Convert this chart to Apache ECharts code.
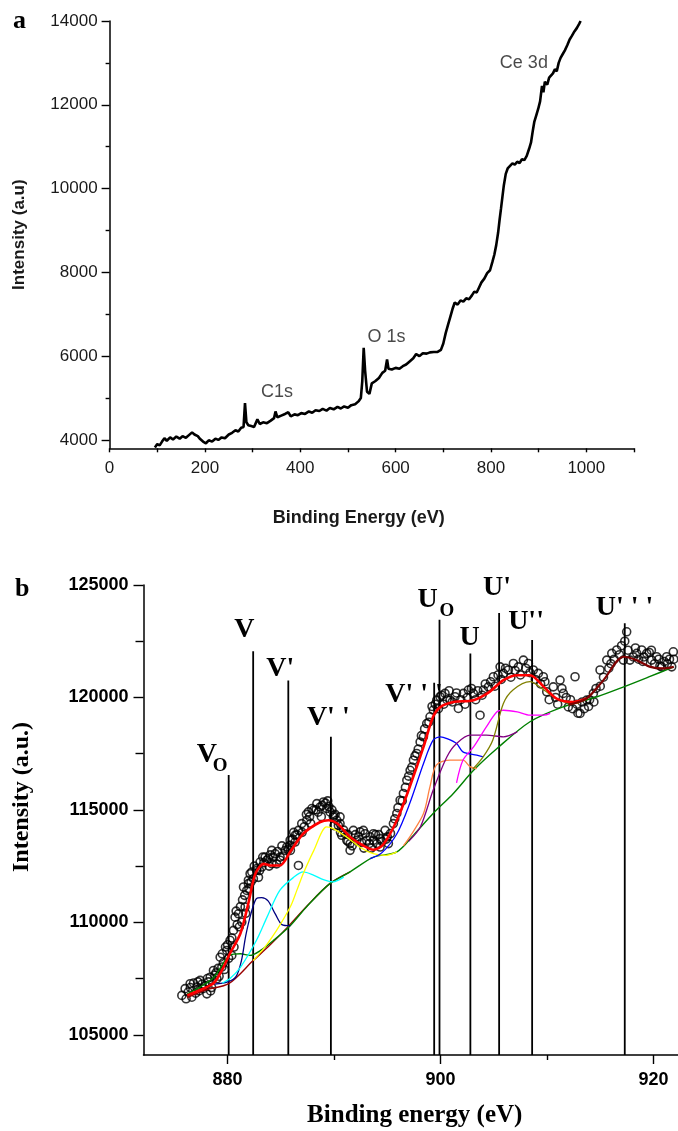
<!DOCTYPE html>
<html>
<head>
<meta charset="utf-8">
<script src="https://cdn.jsdelivr.net/npm/echarts@6/dist/echarts.min.js"></script>
<style>
  html, body { margin: 0; background: #fff; }
  #chart { width: 678px; height: 1131px; }
</style>
</head>
<body>
<div id="chart"></div>
<script>
// ---- panel a: XPS survey spectrum ----
const surveyEnergy = [95, 100, 105, 110, 115, 120, 127, 133, 140, 147, 153, 160, 167, 173, 178, 185, 190, 196, 202, 208,
  215, 222, 228, 235, 242, 250, 257, 264, 270, 276, 281, 284, 287, 291, 297, 303, 310, 315, 322, 330,
  338, 345, 348, 352, 360, 368, 375, 380, 388, 395, 402, 410, 418, 425, 432, 440, 447, 455, 462, 470,
  478, 485, 492, 500, 507, 515, 522, 527, 530, 533, 536, 540, 545, 550, 557, 565, 572, 578, 582, 585,
  592, 600, 608, 615, 622, 630, 637, 643, 650, 657, 665, 672, 680, 688, 695, 700, 705, 710, 715, 720,
  724, 730, 736, 742, 748, 754, 760, 765, 770, 775, 780, 786, 792, 798, 803, 807, 811, 815, 818, 821,
  824, 827, 831, 835, 840, 845, 850, 855, 860, 865, 870, 875, 880, 884, 888, 891, 895, 899, 903, 907,
  910, 913, 918, 922, 926, 930, 934, 938, 942, 946, 950, 955, 960, 965, 970, 975, 980, 985, 988]
const surveyIntensity = [3820, 3900, 3870, 3960, 4040, 3980, 4060, 4010, 4080, 4030, 4090, 4050, 4120, 4180, 4130, 4090, 4020, 3960, 3920, 3990,
  3960, 4030, 4000, 4060, 4040, 4130, 4170, 4230, 4200, 4290, 4310, 4880, 4420, 4350, 4330, 4310, 4490, 4380, 4420, 4400,
  4460, 4520, 4680, 4540, 4580, 4620, 4660, 4560, 4610, 4590, 4640, 4620, 4680, 4650, 4710, 4690, 4740, 4700, 4760, 4730,
  4790, 4750, 4800, 4770, 4830, 4850, 4920, 5000, 5400, 6200, 5650, 5150, 5100, 5350, 5400, 5480, 5600, 5650, 5920, 5700,
  5680, 5720, 5700, 5760, 5800, 5880, 5950, 6050, 6000, 6070, 6060, 6090, 6100, 6100, 6150, 6300, 6550, 6750, 6950, 7150,
  7280, 7230, 7330, 7300, 7380, 7360, 7450, 7540, 7520, 7640, 7760, 7850, 7980, 8050, 8250, 8420, 8650, 8950, 9250, 9520,
  9800, 10080, 10350, 10480, 10540, 10600, 10570, 10640, 10610, 10700, 10680, 10780, 10950, 11100, 11400, 11600, 11750, 11900, 12080, 12450,
  12300, 12550, 12480, 12650, 12620, 12750, 12850, 12800, 13000, 13120, 13200, 13300, 13420, 13560, 13650, 13750, 13830, 13930, 14000]
const surveyPeaks = [[869, 13000, 'Ce 3d'], [581, 6460, 'O 1s'], [351, 5150, 'C1s']]
const surveyTicksX = [0, 100, 200, 300, 400, 500, 600, 700, 800, 900, 1000, 1100]
const surveyLabelsX = [0, 200, 400, 600, 800, 1000]
const surveyMajorY = [4000, 6000, 8000, 10000, 12000, 14000]
const surveyMinorY = [5000, 7000, 9000, 11000, 13000]

// ---- panel b: Ce 3d fit ----
const ceData = [
  [875.70, 106750], [876.01, 107050], [876.48, 107270], [876.64, 106670], [877.11, 107120], [877.42, 107420], [877.89, 107190],
  [878.05, 106820], [878.36, 107560], [878.67, 107860], [878.99, 107490], [879.30, 108450], [879.46, 108010], [879.92, 108750],
  [880.23, 109200], [880.39, 108530], [880.55, 109640], [880.70, 110230], [881.02, 110380], [881.33, 110010], [881.64, 110680],
  [881.80, 111420], [881.95, 111720], [882.11, 112160], [882.42, 111940], [882.74, 112310], [883.21, 112460], [883.68, 112760],
  [884.15, 112610], [884.46, 113050], [884.93, 112760], [885.40, 113200], [885.87, 113430], [886.34, 113570], [886.65, 112530],
  [881.49, 111570], [881.95, 111870], [882.27, 112240], [882.74, 112390], [883.05, 112680], [883.52, 112900], [883.83, 112830],
  [884.15, 113200], [884.93, 112900], [885.56, 113350], [885.87, 113650], [886.34, 113870], [886.65, 114090], [886.96, 114390],
  [887.44, 114540], [887.59, 114910], [887.91, 115060], [888.38, 115280], [888.69, 115130], [889.00, 115350], [889.31, 115060],
  [889.62, 114910], [889.98, 114760], [890.25, 114540], [890.56, 114690], [890.72, 113870], [891.19, 113650], [891.50, 113200],
  [891.81, 114090], [892.44, 114020], [892.91, 113940], [893.07, 113650], [893.38, 113800], [893.69, 113650], [894.01, 113500],
  [894.32, 113350], [889.93, 114690], [890.56, 114390], [891.03, 113940], [891.50, 113500], [892.13, 113650], [892.75, 114090],
  [893.69, 113940], [894.32, 113720], [894.79, 114090], [895.10, 113500], [895.57, 114390], [895.89, 114840], [896.20, 115430],
  [896.51, 115730], [896.83, 116320], [897.14, 116760], [897.45, 117210], [897.76, 117510], [898.08, 118020], [898.39, 118250],
  [898.70, 118840], [899.01, 119140], [899.32, 119440], [899.64, 119880], [899.95, 120030], [900.42, 120180], [900.89, 119880],
  [901.36, 120030], [901.67, 119510], [902.14, 120180], [902.61, 120330], [903.08, 120180], [903.71, 119210], [904.02, 120330],
  [904.49, 120470], [904.96, 120920], [905.59, 121360], [905.90, 121070], [906.37, 121220], [906.84, 121510], [907.31, 121360],
  [907.78, 121660], [908.25, 121510], [908.71, 121220], [909.18, 121070], [909.65, 120920], [909.97, 120250], [910.59, 120470],
  [911.22, 120770], [911.53, 120180], [912.00, 119580], [912.63, 120920], [913.10, 119290], [913.73, 119880], [914.35, 120180],
  [914.98, 121220], [915.61, 121660], [916.08, 121960], [916.55, 122110], [917.17, 121660], [917.48, 122920], [917.79, 121660],
  [918.42, 121960], [918.89, 122110], [919.36, 121960], [919.83, 121660], [920.30, 121810], [920.77, 121360], [921.24, 121810],
  [921.71, 121360], [921.86, 122030],
  [876.3, 106900], [876.8, 107300], [877.3, 106950], [877.6, 107250], [878.2, 107350], [878.5, 107100], [878.8, 107650],
  [879.1, 107950], [879.6, 108200], [879.8, 108900], [880.1, 108400], [880.9, 109900], [881.2, 110700], [881.6, 111200],
  [882.0, 111500], [882.5, 112500], [883.0, 112300], [883.4, 112650], [883.9, 112500], [884.3, 112900], [884.7, 113150],
  [885.2, 112950], [885.7, 113250], [886.1, 113700], [886.5, 113900], [887.2, 114250], [887.7, 114700], [888.1, 115000],
  [888.5, 114900], [888.9, 115200], [889.2, 115300], [889.5, 115150], [889.8, 115000], [890.1, 114800], [890.4, 114300],
  [890.9, 114100], [891.3, 113900], [891.7, 113400], [892.3, 113800], [892.6, 113550], [893.3, 113500], [893.9, 113900],
  [894.5, 113600], [894.9, 113700], [895.3, 113950], [895.7, 114600], [896.0, 115100], [896.4, 115400], [896.7, 116000],
  [897.0, 116500], [897.3, 116900], [897.6, 117400], [897.9, 117700], [898.2, 118300], [898.5, 118600], [898.9, 118900],
  [899.2, 119600], [899.5, 119700], [899.8, 119500], [900.1, 120100], [900.3, 119700], [900.6, 119900], [900.8, 120300],
  [901.1, 119800], [901.5, 120200], [901.9, 119900], [902.3, 119700], [902.5, 120000], [902.9, 120400], [903.3, 119900],
  [903.5, 120300], [903.9, 120100], [904.2, 120600], [904.7, 120700], [905.1, 120500], [905.4, 121000], [905.7, 120800],
  [906.1, 121300], [906.6, 120900], [907.0, 121200], [907.5, 121000], [908.0, 121300], [908.4, 121100], [908.9, 120800],
  [909.4, 120600], [909.8, 120700], [910.2, 119900], [910.8, 120000], [911.0, 119700], [911.4, 120400], [911.8, 120000],
  [912.2, 119900], [912.4, 119500], [912.8, 119700], [913.3, 119800], [913.5, 119500], [914.0, 119900], [914.6, 120400],
  [915.3, 120900], [915.8, 121300], [916.3, 121700], [916.8, 121900], [917.0, 122300], [917.6, 122100], [918.1, 121800],
  [918.6, 121700], [919.1, 121800], [919.6, 122000], [920.1, 121500], [920.5, 121700], [921.0, 121600], [921.5, 121700],
  [876.1, 106600], [876.5, 107100], [877.0, 106850], [877.2, 107350], [877.7, 107050], [878.1, 107500], [878.4, 106950],
  [878.9, 107750], [879.2, 107600], [879.5, 108600], [879.7, 107900], [880.0, 109000], [880.4, 109300], [880.6, 108900],
  [880.8, 110500], [881.1, 109800], [881.4, 111000], [881.7, 110400], [882.2, 111800], [882.9, 112000], [883.3, 112900],
  [884.0, 113000], [884.6, 112600], [885.1, 113400], [885.9, 113200], [886.2, 114000], [887.0, 114000], [887.4, 114800],
  [887.8, 114400], [888.3, 115000], [888.8, 114700], [889.4, 115400], [890.0, 114300], [890.6, 114000], [891.3, 113600],
  [892.0, 113900], [892.8, 113300], [893.5, 113300], [894.2, 113900], [895.0, 113800], [912.9, 119300], [913.9, 119600],
  [914.4, 119800], [915.0, 120500], [916.0, 121500], [917.3, 122500], [918.3, 122200], [919.0, 121600], [919.8, 122100],
  [920.6, 121400], [921.3, 121500], [921.9, 121700]
]
const fitEnvelope = [[876.2, 106750], [877.5, 107000], [878.7, 107300], [879.5, 107900], [880.2, 108600], [881.2, 109500],
  [882.0, 110950], [882.6, 112150], [883.4, 112600], [884.0, 112530], [884.9, 112530], [885.9, 113150], [887.1, 113940],
  [888.7, 114460], [889.5, 114540], [890.3, 114390], [891.5, 113800], [892.6, 113450], [893.7, 113230], [894.6, 113450],
  [895.9, 114540], [897.1, 116020], [898.4, 117800], [899.3, 119140], [900.0, 119580], [901.2, 119800], [903.1, 119880],
  [904.6, 120250], [905.9, 120770], [907.2, 120990], [908.4, 120990], [909.7, 120470], [910.9, 119950], [912.5, 119800],
  [913.7, 119950]]
const fitBackground = [[876.2, 106650], [878.0, 107000], [880.1, 107270], [882.4, 108300], [884.0, 109000],
  [885.7, 109820], [887.5, 110750], [889.6, 111720], [891.5, 112240]]
const compVo = [[876.2, 106820], [877.4, 107120], [878.7, 107560], [880.2, 108530], [881.2, 108600], [882.1, 108530],
  [883.1, 108750], [884.3, 109190], [885.9, 109860], [887.4, 110680], [889.6, 111720], [891.5, 112240], [893.7, 112900],
  [895.9, 113130], [897.5, 113900], [899.3, 114840], [901.2, 115730], [903.1, 116760], [905.3, 117730], [908.4, 118920],
  [911.5, 119580], [914.7, 120030], [917.2, 120470], [919.5, 120900], [921.9, 121360]]
const compV = [[878.8, 107250], [880.0, 107350], [880.8, 107600], [881.3, 108300], [881.7, 109400], [882.2, 110400],
  [882.7, 111050], [883.2, 111100], [883.8, 110950], [884.5, 110350], [885.1, 109900], [885.9, 109850]]
const compV1 = [[879.5, 107300], [880.2, 107490], [881.2, 108000], [882.7, 109190], [883.7, 110230], [884.9, 111420],
  [886.2, 112000], [887.1, 112240], [888.1, 112090], [889.0, 111900], [889.9, 111800], [890.9, 112010]]
const compV2 = [[882.4, 108300], [883.5, 108900], [884.6, 109640], [885.9, 110700], [886.5, 111420], [887.1, 112160],
  [888.1, 113200], [889.3, 114240], [889.9, 114170], [891.2, 113790], [892.4, 113350], [893.7, 113050], [894.9, 112980],
  [895.9, 113130]]
const compV3 = [[893.4, 112830], [894.5, 113100], [895.9, 113940], [897.1, 115280], [898.4, 117060], [899.3, 118100],
  [900.0, 118250], [900.6, 118170], [901.5, 117950], [902.1, 117580], [903.4, 117430], [904.0, 117360]]
const compUo = [[896.5, 113400], [897.1, 113790], [898.4, 114840], [899.0, 116020], [899.6, 116990], [900.9, 117210],
  [902.1, 117210], [902.8, 116910], [903.4, 116840]]
const compU = [[897.0, 113600], [898.1, 114240], [899.3, 115870], [900.6, 117360], [901.5, 117950], [902.8, 118320],
  [904.3, 118320], [905.9, 118250], [907.2, 118470]]
const compU1 = [[901.5, 116200], [902.1, 117210], [903.1, 117800], [904.3, 118690], [905.3, 119360], [905.9, 119430],
  [907.2, 119360], [908.4, 119210], [909.7, 119210], [910.3, 119290]]
const compU2 = [[903.0, 116800], [904.0, 117360], [904.9, 118100], [905.9, 119730], [906.8, 120330], [908.4, 120700],
  [909.7, 120330], [910.9, 119950], [912.2, 119730], [913.0, 119750]]
const compU3 = [[912.0, 119680], [913.7, 119950], [915.3, 120770], [917.2, 121810], [918.4, 121660], [919.7, 121360],
  [920.9, 121290], [921.9, 121360]]

const peakNames = ['V', 'V', "V'", "V' '", "V' ' '", 'U', 'U', "U'", "U''", "U' ' '"]
const peakPos = [880.1, 882.4, 885.7, 889.7, 899.4, 899.9, 902.8, 905.5, 908.6, 917.3]
const peakTop = [116550, 122050, 120750, 118250, 120650, 123450, 121950, 123750, 122550, 123300]

const ceMajorX = [880, 900, 920]
const ceMinorX = [890, 910]
const ceMajorY = [105000, 110000, 115000, 120000, 125000]
const ceMinorY = [107500, 112500, 117500, 122500]

const SANS = '"Liberation Sans", Arial, sans-serif'
const SERIF = '"Liberation Serif", "Times New Roman", serif'
const Y_MIN_B = 104100

// label offsets from the top of each peak line: [dx of letter, dy of letter centre]
const labelOffset = [[-32, -20], [-19, -22], [-22, -12], [-24, -19], [-49, 12],
  [-22, -20], [-11, -16], [-16, -25], [-24, -18], [-29, -15]]
const hasSub = [true, false, false, false, false, true, false, false, false, false]

const chart = echarts.init(document.getElementById('chart'))

const tick = (vals, len) => ({ show: true, customValues: vals, length: len, lineStyle: { color: '#000', width: 1.4 } })
const noLabel = { show: false }
const axisLineStyle = { show: true, lineStyle: { color: '#000', width: 1.5 } }

function lineSeries (data, color, width) {
  return {
    type: 'line',
    xAxisIndex: 2,
    yAxisIndex: 2,
    data: data,
    showSymbol: false,
    smooth: 0.3,
    lineStyle: { color: color, width: width || 1.3 },
    silent: true
  }
}

const option = {
  animation: false,
  backgroundColor: '#fff',
  grid: [
    { left: 109.6, top: 21, width: 524.4, height: 427.3 },
    { left: 143.5, top: 585, right: 0, height: 470 }
  ],
  xAxis: [
    {
      gridIndex: 0, type: 'value', min: 0, max: 1100, position: 'bottom',
      axisLine: axisLineStyle,
      axisTick: tick(surveyTicksX, 4),
      axisLabel: { customValues: surveyLabelsX, formatter: v => String(v), color: '#1a1a1a', fontSize: 17, fontFamily: SANS, margin: 12 },
      splitLine: { show: false },
      name: 'Binding Energy (eV)', nameLocation: 'middle', nameGap: 61,
      nameTextStyle: { fontFamily: SANS, fontWeight: 'bold', fontSize: 18, color: '#1a1a1a', padding: [0, 26, 0, 0] }
    },
    {
      gridIndex: 1, type: 'value', min: 872.1, max: 922.3, position: 'bottom',
      axisLine: { show: false },
      axisTick: tick(ceMinorX, 5),
      axisLabel: noLabel,
      splitLine: { show: false }
    },
    {
      gridIndex: 1, type: 'value', min: 872.1, max: 922.3, position: 'bottom',
      axisLine: axisLineStyle,
      axisTick: tick(ceMajorX, 9),
      axisLabel: { customValues: ceMajorX, formatter: v => String(v), color: '#000', fontSize: 18, fontWeight: 'bold', fontFamily: SANS, margin: 16 },
      splitLine: { show: false },
      name: 'Binding energy (eV)', nameLocation: 'middle', nameGap: 48,
      nameTextStyle: { fontFamily: SERIF, fontWeight: 'bold', fontSize: 25, color: '#000', padding: [0, 0, 0, 8] }
    }
  ],
  yAxis: [
    {
      gridIndex: 0, type: 'value', min: 3800, max: 14000, position: 'left',
      axisLine: axisLineStyle,
      axisTick: tick(surveyMajorY, 8),
      axisLabel: { customValues: surveyMajorY, formatter: v => String(v), color: '#1a1a1a', fontSize: 17, fontFamily: SANS, margin: 12 },
      splitLine: { show: false },
      name: 'Intensity (a.u)', nameLocation: 'middle', nameGap: 82,
      nameTextStyle: { fontFamily: SANS, fontWeight: 'bold', fontSize: 17, color: '#1a1a1a' }
    },
    {
      gridIndex: 0, type: 'value', min: 3800, max: 14000, position: 'left',
      axisLine: { show: false },
      axisTick: tick(surveyMinorY, 4),
      axisLabel: noLabel,
      splitLine: { show: false }
    },
    {
      gridIndex: 1, type: 'value', min: Y_MIN_B, max: 125000, position: 'left',
      axisLine: axisLineStyle,
      axisTick: tick(ceMajorY, 10),
      axisLabel: { customValues: ceMajorY, formatter: v => String(v), color: '#000', fontSize: 18, fontWeight: 'bold', fontFamily: SANS, margin: 15 },
      splitLine: { show: false },
      name: 'Intensity (a.u.)', nameLocation: 'middle', nameGap: 110,
      nameTextStyle: { fontFamily: SERIF, fontWeight: 'bold', fontSize: 24, color: '#000', padding: [0, 0, 0, 46] }
    },
    {
      gridIndex: 1, type: 'value', min: Y_MIN_B, max: 125000, position: 'left',
      axisLine: { show: false },
      axisTick: tick(ceMinorY, 8),
      axisLabel: noLabel,
      splitLine: { show: false }
    }
  ],
  graphic: [
    { type: 'text', x: 13, y: 21, style: { text: 'a', font: 'bold 26px ' + SERIF, fill: '#000', align: 'left', verticalAlign: 'middle' } },
    { type: 'text', x: 15, y: 589, style: { text: 'b', font: 'bold 26px ' + SERIF, fill: '#000', align: 'left', verticalAlign: 'middle' } }
  ],
  series: [
    {
      type: 'line',
      xAxisIndex: 0,
      yAxisIndex: 0,
      data: surveyEnergy.map((e, i) => [e, surveyIntensity[i]]),
      showSymbol: false,
      lineStyle: { color: '#000', width: 2.6 },
      silent: true
    },
    {
      type: 'scatter',
      xAxisIndex: 0,
      yAxisIndex: 0,
      data: surveyPeaks,
      symbolSize: 1,
      itemStyle: { color: 'rgba(0,0,0,0)' },
      label: {
        show: true, position: 'inside', formatter: p => p.value[2],
        fontFamily: SANS, fontSize: 18, color: '#1a1a1a'
      },
      silent: true
    },
    {
      type: 'scatter',
      xAxisIndex: 2,
      yAxisIndex: 2,
      data: ceData,
      symbol: 'circle',
      symbolSize: 8,
      itemStyle: { color: 'rgba(0,0,0,0)', borderColor: '#000', borderWidth: 1.6 },
      silent: true
    },
    lineSeries(fitBackground, '#990000', 1.4),
    lineSeries(compVo, '#008000', 1.4),
    lineSeries(compV, '#000080'),
    lineSeries(compV1, '#00ffff'),
    lineSeries(compV2, '#ffff00'),
    lineSeries(compV3, '#0000ff'),
    lineSeries(compUo, '#ff8040'),
    lineSeries(compU, '#800080'),
    lineSeries(compU1, '#ff00ff'),
    lineSeries(compU2, '#808000'),
    lineSeries(fitEnvelope, '#ff0000', 2.6),
    lineSeries(compU3, '#800000', 2.2),
    {
      type: 'custom',
      xAxisIndex: 2,
      yAxisIndex: 2,
      data: peakPos.map((x, i) => [x, peakTop[i], i]),
      silent: true,
      renderItem: function (params, api) {
        const i = api.value(2)
        const base = api.coord([api.value(0), Y_MIN_B])
        const top = api.coord([api.value(0), api.value(1)])
        const off = labelOffset[i]
        const children = [
          {
            type: 'line',
            shape: { x1: base[0], y1: base[1], x2: top[0], y2: top[1] },
            style: { stroke: '#000', lineWidth: 1.8 }
          },
          {
            type: 'text',
            x: top[0] + off[0],
            y: top[1] + off[1],
            style: { text: peakNames[i], font: 'bold 28px ' + SERIF, fill: '#000', align: 'left', verticalAlign: 'middle' }
          }
        ]
        if (hasSub[i]) {
          children.push({
            type: 'text',
            x: top[0] + off[0] + (i === 0 ? 16 : 22),
            y: top[1] + off[1] + 11,
            style: { text: 'O', font: 'bold 19px ' + SERIF, fill: '#000', align: 'left', verticalAlign: 'middle' }
          })
        }
        return { type: 'group', children: children }
      }
    }
  ]
}

chart.setOption(option)
</script>
</body>
</html>
